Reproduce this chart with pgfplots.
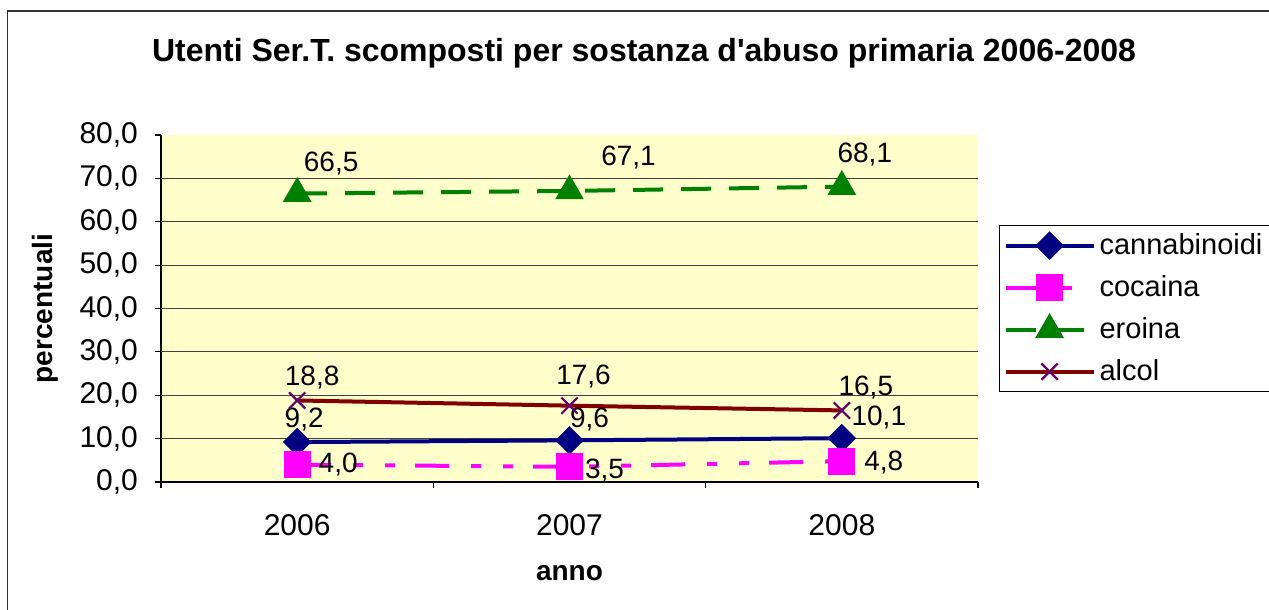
\documentclass[border=0pt]{standalone}
\usepackage{pgfplots}
\pgfplotsset{compat=1.18}
\usepackage{fontspec}
\setmainfont{Liberation Sans}[Ligatures=TeXOff]
\definecolor{bgyel}{RGB}{255,255,204}
\definecolor{cnavy}{RGB}{0,0,128}
\definecolor{cmag}{RGB}{255,0,255}
\definecolor{cgreen}{RGB}{0,128,0}
\definecolor{cred}{RGB}{128,0,0}
\definecolor{cpurp}{RGB}{102,0,102}
\begin{document}
\begin{tikzpicture}
\path[use as bounding box] (0,0) rectangle (634.5pt,305pt);
\draw[line width=0.7pt, black!80] (3.75pt,-2pt) -- (3.75pt,299.5pt) -- (640pt,299.5pt);
\node[anchor=base, font=\fontsize{16}{18}\selectfont\bfseries] at (322pt,274pt) {Utenti Ser.T. scomposti per sostanza d'abuso primaria 2006-2008};
\begin{axis}[
  at={(80.5pt,64pt)}, anchor=south west,
  scale only axis, width=408.5pt, height=173.5pt,
  xmin=0.5, xmax=3.5, ymin=0, ymax=80,
  axis background/.style={fill=bgyel},
  axis x line*=bottom, axis y line*=left,
  axis line style={black, line width=0.6pt},
  tick align=outside, major tick length=3pt,
  tick style={black, line width=0.6pt},
  xtick={1,2,3}, xticklabels={2006,2007,2008},
  xtick style={draw=none},
  extra x ticks={0.5,1.5,2.5,3.5}, extra x tick labels={},
  extra x tick style={xtick style={draw=black}},
  ytick={0,10,...,80},
  extra y ticks={10,20,...,70}, extra y tick labels={},
  extra y tick style={grid=major, major tick length=0pt},
  major grid style={black!75, line width=0.6pt},
  /pgf/number format/.cd, fixed, fixed zerofill, precision=1, use comma, assume math mode=true,
  /pgfplots/.cd,
  ticklabel style={font=\fontsize{15}{17}\selectfont},
  xticklabel style={yshift=-9.5pt},
  yticklabel style={xshift=-5pt},
  xlabel={anno}, ylabel={percentuali},
  label style={font=\fontsize{14}{16}\selectfont\bfseries},
  xlabel style={at={(axis description cs:0.5,-0.262)}, anchor=center},
  ylabel style={at={(axis description cs:-0.142,0.5)}, anchor=center},
  legend style={at={(axis description cs:1.0257,0.7406)}, anchor=north west,
    draw=black, line width=0.6pt, font=\fontsize{14.5}{16}\selectfont,
    row sep=5pt, inner sep=2pt},
  legend cell align=left,
  legend image code/.code={\draw[mark repeat=2,mark phase=2,#1] plot coordinates {(0pt,0pt) (22pt,0pt) (44pt,0pt)};},
  nodes near coords,
  visualization depends on={value \thisrow{dx} \as \dx},
  visualization depends on={value \thisrow{dy} \as \dy},
  nodes near coords style={anchor=center, xshift=\dx pt, yshift=\dy pt, text=black, font=\fontsize{14}{16}\selectfont},
  clip=false,
]
\addplot[cnavy, line width=2pt, mark=diamond*, mark size=5.75pt, mark options={solid, xscale=1.33, fill=cnavy}]
  table[x=x, y=y, meta=y] {
x y dx dy
1 9.2 3.5 11.5
2 9.6 10 10.5
3 10.1 18.5 10.5
};
\addlegendentry{cannabinoidi}
\addplot[cmag, line width=2pt, dash pattern=on 17pt off 11pt on 5pt off 11pt on 5pt off 10pt, mark=square*, mark size=5.75pt, mark options={solid, fill=cmag}]
  table[x=x, y=y, meta=y] {
x y dx dy
1 4.0 20.5 0
2 3.5 17.5 -2
3 4.8 21 -0.5
};
\addlegendentry{cocaina}
\addplot[cgreen, line width=2pt, dash pattern=on 15pt off 9pt, mark=triangle*, mark size=6.3pt, mark options={solid, fill=cgreen}]
  table[x=x, y=y, meta=y] {
x y dx dy
1 66.5 17 15
2 67.1 29.5 16.5
3 68.1 11.5 16
};
\addlegendentry{eroina}
\addplot[cred, line width=2pt, mark=x, mark size=5.75pt, mark options={solid, draw=cpurp, line width=1.1pt}]
  table[x=x, y=y, meta=y] {
x y dx dy
1 18.8 7.5 11.5
2 17.6 7 14.5
3 16.5 12 11.5
};
\addlegendentry{alcol}
\end{axis}
\end{tikzpicture}
\end{document}
